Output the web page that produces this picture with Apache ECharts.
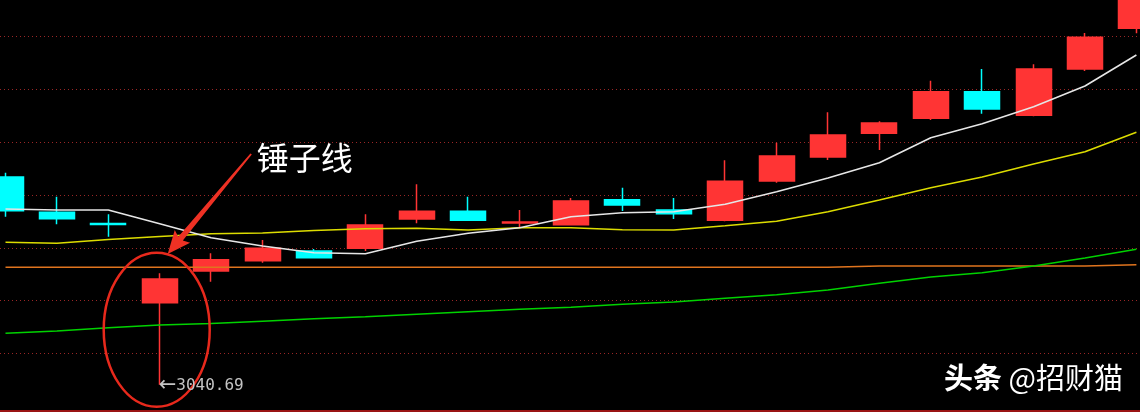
<!DOCTYPE html>
<html><head><meta charset="utf-8">
<script src="https://cdn.jsdelivr.net/npm/echarts@6/dist/echarts.min.js"></script>
<style>html,body{margin:0;padding:0;background:#000;}#c{width:1140px;height:412px;}</style>
</head><body><div id="c"></div>
<script>
// ---- data (index = trading day, left to right) ----
const opens  = [3198.19,3171.43,3162.93,3102.88,3126.92,3134.73,3142.08,3144.13,3166.35,3172.19,3163.31,3162.02,3180.98,3173.17,3165.36,3195.16,3213.36,3231.33,3242.70,3262.87,3244.98,3280.09,3310.95];
const closes = [3172.64,3166.57,3162.18,3120.85,3135.48,3144.13,3137.00,3161.80,3172.19,3165.36,3164.07,3180.00,3176.96,3170.36,3194.93,3214.12,3230.04,3239.14,3262.87,3249.76,3280.09,3304.12,3338.50];
const lows   = [3168.09,3162.33,3152.92,3040.69,3118.80,3133.21,3136.77,3142.08,3163.09,3165.00,3159.29,3161.50,3172.41,3166.35,3164.60,3193.87,3211.08,3218.67,3241.41,3246.19,3244.20,3278.57,3307.16];
const highs  = [3201.45,3183.26,3169.91,3125.17,3140.34,3150.42,3143.60,3169.91,3192.66,3183.26,3173.17,3182.27,3190.08,3182.27,3210.86,3224.20,3247.25,3240.43,3271.22,3280.09,3283.65,3307.38,3345.00];
const maWhite  = [3173.93,3173.17,3173.17,3162.78,3152.17,3145.87,3140.79,3140.03,3149.44,3155.50,3159.75,3168.09,3171.12,3171.88,3177.49,3187.05,3197.44,3209.04,3227.99,3238.61,3251.50,3267.20,3290.70];
const maYellow = [3148.68,3147.92,3150.80,3153.08,3155.12,3155.73,3157.63,3158.91,3159.29,3158.00,3159.67,3159.75,3158.23,3158.00,3161.27,3164.60,3171.88,3180.75,3190.08,3198.19,3208.05,3217.38,3232.09];
const maGreen  = [3079.75,3081.42,3083.92,3085.97,3087.11,3088.85,3090.67,3092.19,3094.08,3096.05,3097.87,3099.39,3101.67,3103.41,3106.22,3108.94,3112.51,3117.59,3122.37,3125.63,3130.71,3136.77,3143.37];
const maOrange = [3129.72,3129.72,3129.72,3129.72,3129.72,3129.72,3129.72,3129.72,3129.72,3129.72,3129.72,3129.72,3129.72,3129.72,3129.72,3129.72,3129.72,3130.71,3130.71,3130.71,3130.71,3130.71,3131.62];
const hammerIndex = 3;
const annotationText = '锤子线';
const watermarkBold = '头条';
const watermarkRest = ' @招财猫';
// ---------------------------------------------------

const candleData = opens.map((o, i) => [i, o, closes[i], lows[i], highs[i]]);
const toXY = arr => arr.map((v, i) => [i, v]);

function maSeries(name, arr, color) {
  return {
    name, type: 'line', data: toXY(arr), xAxisIndex: 0, yAxisIndex: 0,
    symbol: 'none', showSymbol: false, smooth: false, silent: true,
    lineStyle: { color, width: 1.6 }, z: 3
  };
}

const chart = echarts.init(document.getElementById('c'), null, { renderer: 'canvas' });
const option = {
  backgroundColor: '#000000',
  animation: false,
  grid: [
    { left: 0, right: 0, top: 0, bottom: 1, show: false },
    { left: 0, right: 0, top: 36.7, bottom: 58.7, show: false }
  ],
  xAxis: [
    { type: 'value', gridIndex: 0, min: -0.107, max: 22.07, show: true,
      axisLine: { show: true, onZero: false, lineStyle: { color: '#9a1414', width: 2 } },
      axisTick: { show: false }, axisLabel: { show: false }, splitLine: { show: false } },
    { type: 'value', gridIndex: 1, min: 0, max: 1, show: false }
  ],
  yAxis: [
    { type: 'value', gridIndex: 0, min: 3020.76, max: 3332.43, show: false, splitLine: { show: false } },
    { type: 'value', gridIndex: 1, min: 0, max: 6, interval: 1, show: true,
      axisLine: { show: false }, axisTick: { show: false }, axisLabel: { show: false },
      splitLine: { show: true, lineStyle: { color: '#9a2626', width: 1, type: [1, 3] } } }
  ],
  series: [
    {
      type: 'candlestick', data: candleData, xAxisIndex: 0, yAxisIndex: 0,
      barWidth: 35.5, silent: true,
      encode: { x: 0, y: [1, 2, 3, 4] },
      itemStyle: { color: '#ff3434', color0: '#00ffff', borderColor: '#ff3434', borderColor0: '#00ffff', borderWidth: 1.5 },
      z: 2
    },
    maSeries('orange', maOrange, '#e0741e'),
    maSeries('green', maGreen, '#00d200'),
    maSeries('yellow', maYellow, '#dcdc00'),
    maSeries('white', maWhite, '#e6e6e6')
  ]
};
chart.setOption(option);

// ---- annotations anchored to the hammer candle ----
const [hx, hLowY] = chart.convertToPixel({ xAxisIndex: 0, yAxisIndex: 0 }, [hammerIndex, lows[hammerIndex]]);
const [, hHighY] = chart.convertToPixel({ xAxisIndex: 0, yAxisIndex: 0 }, [hammerIndex, highs[hammerIndex]]);

const tip = [hx + 8, hHighY - 19.3];
const tail = [hx + 91.4, hHighY - 119.3];
const dx = tail[0] - tip[0], dy = tail[1] - tip[1];
const len = Math.hypot(dx, dy);
const u = [dx / len, dy / len];
const n = [-u[1], u[0]];
const P = (base, along, side) => [base[0] + u[0] * along + n[0] * side, base[1] + u[1] * along + n[1] * side];
const headLen = 23, headHalf = 10;
const arrowPts = [
  P(tail, 0, 0.9), P(tip, headLen - 3, 3), P(tip, headLen, headHalf), tip.slice(),
  P(tip, headLen, -headHalf), P(tip, headLen - 3, -3), P(tail, 0, -0.9)
];

chart.setOption({
  graphic: [
    { type: 'ellipse', z: 100, silent: true,
      shape: { cx: hx - 3, cy: hLowY - 55, rx: 53, ry: 77 },
      style: { fill: 'none', stroke: '#e8291c', lineWidth: 2.5 } },
    { type: 'polygon', z: 100, silent: true, shape: { points: arrowPts }, style: { fill: '#ee3124' } },
    { type: 'text', z: 100, silent: true, x: hx + 97, y: hHighY - 115,
      style: { text: annotationText, fill: '#ffffff', fontSize: 32, fontFamily: '"Noto Sans CJK SC"', fontWeight: 'normal',
               align: 'left', verticalAlign: 'middle' } },
    { type: 'text', z: 100, silent: true, x: hx - 1, y: hLowY + 1,
      style: { text: '{a|←}{b|' + lows[hammerIndex].toFixed(2) + '}', align: 'left', verticalAlign: 'middle',
               rich: { a: { fontFamily: '"DejaVu Sans"', fontSize: 21, fill: '#c4c4c4', color: '#c4c4c4' },
                       b: { fontFamily: '"DejaVu Sans Mono"', fontSize: 16, fill: '#c4c4c4', color: '#c4c4c4' } } } },
    { type: 'text', z: 100, silent: true, right: 17, top: 363,
      style: { text: '{a|' + watermarkBold + '}{b|' + watermarkRest + '}', align: 'left', verticalAlign: 'top',
               rich: { a: { fontFamily: '"Noto Sans CJK SC"', fontWeight: 'bold', fontSize: 29, fill: '#ffffff', color: '#ffffff' },
                       b: { fontFamily: '"Noto Sans CJK SC"', fontWeight: 'normal', fontSize: 29, fill: '#ffffff', color: '#ffffff' } } } }
  ]
});
</script>
</body></html>
